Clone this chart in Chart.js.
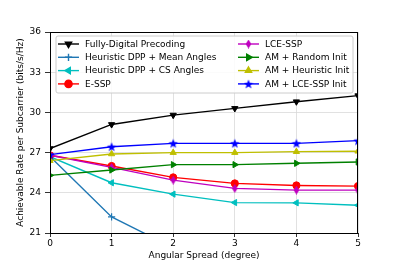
<!DOCTYPE html>
<html>
<head>
<meta charset="utf-8">
<script src="https://cdn.jsdelivr.net/npm/chart.js@4/dist/chart.umd.min.js"></script>
<style>
  html, body { margin: 0; padding: 0; background: #fff; }
  #wrap { width: 399px; height: 266px; }
</style>
</head>
<body>
<div id="wrap"><canvas id="rateChart"></canvas></div>
<script>
const spreads = [0, 1, 2, 3, 4, 5];
const yTicks = [21, 24, 27, 30, 33, 36];

const fullyDigital = [27.3, 29.1, 29.8, 30.3, 30.8, 31.25];
const dppMeanAngles = [26.7, 22.2, 19.9, 18.6, 17.8, 17.2];
const dppCsAngles = [26.7, 24.75, 23.9, 23.27, 23.25, 23.07];
const essp = [26.8, 26.0, 25.15, 24.7, 24.55, 24.5];
const lcessp = [26.8, 25.9, 24.95, 24.33, 24.2, 24.2];
const amRandom = [25.3, 25.7, 26.1, 26.1, 26.2, 26.3];
const amHeuristic = [26.4, 26.9, 27.0, 27.0, 27.07, 27.1];
const amLcessp = [26.85, 27.44, 27.69, 27.69, 27.69, 27.89];

const FONT = "'DejaVu Sans', sans-serif";

// filled star and thin diamond markers like matplotlib's '*' and 'd'
function makeMarker(kind, color, size) {
    const c = document.createElement("canvas");
    c.width = size; c.height = size;
    const g = c.getContext("2d");
    const m = size / 2;
    g.fillStyle = color;
    g.beginPath();
    if (kind === "star") {
        for (let i = 0; i < 10; i++) {
            const r = i % 2 === 0 ? m : m * 0.42;
            const a = -Math.PI / 2 + i * Math.PI / 5;
            g.lineTo(m + r * Math.cos(a), m + 0.5 + r * Math.sin(a));
        }
    } else {
        g.moveTo(m, 0);
        g.lineTo(m + m * 0.62, m);
        g.lineTo(m, size);
        g.lineTo(m - m * 0.62, m);
    }
    g.closePath();
    g.fill();
    return c;
}

const series = [
    { label: "Fully-Digital Precoding", data: fullyDigital, color: "#000000", style: "triangle", rot: 180 },
    { label: "Heuristic DPP + Mean Angles", data: dppMeanAngles, color: "#1f77b4", style: "cross", rot: 0 },
    { label: "Heuristic DPP + CS Angles", data: dppCsAngles, color: "#00bfbf", style: "triangle", rot: 270 },
    { label: "E-SSP", data: essp, color: "#ff0000", style: "circle", rot: 0 },
    { label: "LCE-SSP", data: lcessp, color: "#bf00bf", style: makeMarker("diamond", "#bf00bf", 9), rot: 0 },
    { label: "AM + Random Init", data: amRandom, color: "#008000", style: "triangle", rot: 90 },
    { label: "AM + Heuristic Init", data: amHeuristic, color: "#bfbf00", style: "triangle", rot: 0 },
    { label: "AM + LCE-SSP Init", data: amLcessp, color: "#0000ff", style: makeMarker("star", "#0000ff", 10), rot: 0 },
];

const datasets = series.map((s, i) => ({
    label: s.label,
    data: s.data.map((v, k) => ({ x: spreads[k], y: v })),
    borderColor: s.color,
    backgroundColor: s.color,
    borderWidth: 1.4,
    pointStyle: s.style,
    rotation: s.rot,
    pointRadius: 3.6,
    pointBorderWidth: s.style === "cross" ? 1.2 : 1,
    tension: 0,
    order: series.length - i,
}));

// matplotlib-style legend box inside the plot, two columns
const innerLegend = {
    id: "innerLegend",
    afterDatasetsDraw(chart) {
        const ctx = chart.ctx;
        const area = chart.chartArea;
        ctx.save();
        // frame around the plot
        ctx.strokeStyle = "#000";
        ctx.lineWidth = 1;
        ctx.strokeRect(area.left + 0.5, area.top + 0.5, area.right - area.left - 1, area.bottom - area.top);

        const bx = area.left + 6, by = area.top + 4, bw = 297, bh = 57;
        ctx.globalAlpha = 0.85;
        ctx.fillStyle = "#fff";
        ctx.beginPath();
        ctx.roundRect(bx, by, bw, bh, 2);
        ctx.fill();
        ctx.globalAlpha = 1;
        ctx.strokeStyle = "#cccccc";
        ctx.stroke();

        ctx.font = "9px " + FONT;
        ctx.textBaseline = "middle";
        const cols = [bx + 2, bx + 182];
        chart.data.datasets.forEach((ds, i) => {
            const col = Math.floor(i / 4), row = i % 4;
            const x0 = cols[col], y = by + 8 + row * 13.3;
            ctx.strokeStyle = ds.borderColor;
            ctx.lineWidth = 1.4;
            ctx.beginPath();
            ctx.moveTo(x0, y);
            ctx.lineTo(x0 + 21, y);
            ctx.stroke();
            ctx.fillStyle = ds.backgroundColor;
            Chart.helpers.drawPoint(ctx, {
                pointStyle: ds.pointStyle,
                rotation: ds.rotation,
                radius: 3.6,
                borderWidth: ds.pointBorderWidth,
            }, x0 + 10.5, y);
            ctx.fillStyle = "#000";
            ctx.fillText(ds.label, x0 + 27, y + 0.5);
        });
        ctx.restore();
    }
};

new Chart(document.getElementById("rateChart"), {
    type: "line",
    data: { datasets },
    plugins: [innerLegend],
    options: {
        responsive: true,
        maintainAspectRatio: false,
        animation: false,
        layout: { padding: { top: 32, right: 41, left: 0, bottom: 0 } },
        plugins: {
            legend: { display: false },
            tooltip: { enabled: false },
        },
        scales: {
            x: {
                type: "linear",
                min: 0,
                max: 5,
                afterBuildTicks: (scale) => { scale.ticks = spreads.map((v) => ({ value: v })); },
                afterFit: (scale) => { scale.height = 33; },
                ticks: { color: "#000", font: { family: FONT, size: 9 }, padding: 1 },
                grid: { color: "#d9d9d9", lineWidth: 0.8, tickColor: "#000", tickLength: 4 },
                border: { color: "#000", width: 1 },
                title: {
                    display: true,
                    text: "Angular Spread (degree)",
                    color: "#000",
                    font: { family: FONT, size: 9 },
                    padding: { top: 0, bottom: 4.5 },
                },
            },
            y: {
                min: 21,
                max: 36,
                afterBuildTicks: (scale) => { scale.ticks = yTicks.map((v) => ({ value: v })); },
                afterFit: (scale) => { scale.width = 50; },
                ticks: { color: "#000", font: { family: FONT, size: 9 }, padding: 4 },
                grid: { color: "#d9d9d9", lineWidth: 0.8, tickColor: "#000", tickLength: 5 },
                border: { color: "#000", width: 1 },
                title: {
                    display: true,
                    text: "Achievable Rate per Subcarrier (bits/s/Hz)",
                    color: "#000",
                    font: { family: FONT, size: 9 },
                    padding: { top: 15, bottom: 0 },
                },
            },
        },
    },
});
</script>
</body>
</html>
